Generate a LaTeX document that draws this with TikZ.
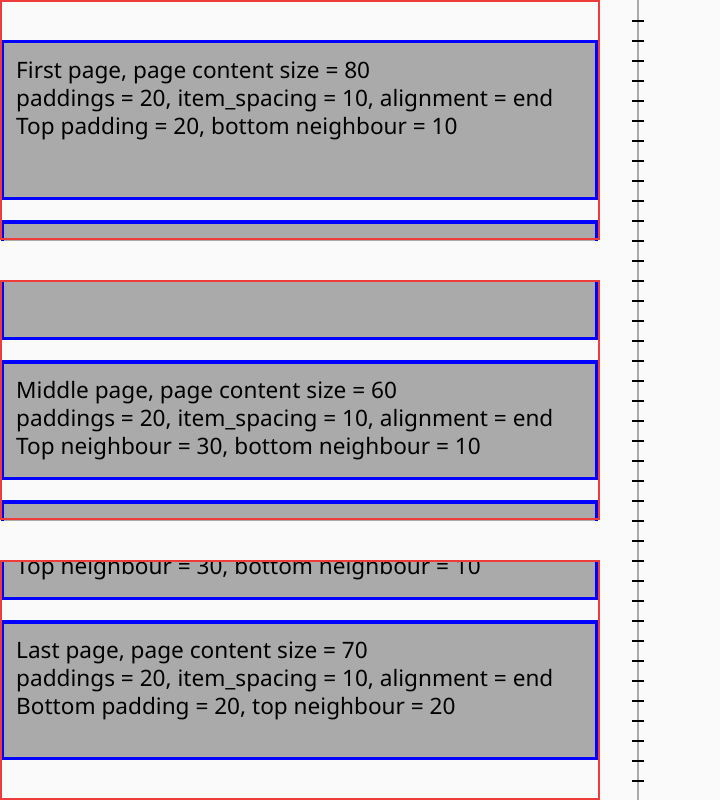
\documentclass[tikz,border=0pt]{standalone}
\usepackage{fontspec}
\setmainfont{Noto Sans}
\definecolor{pagebg}{HTML}{FAFAFA}
\definecolor{itemfill}{HTML}{AAAAAA}
\definecolor{itemline}{HTML}{0000FF}
\definecolor{viewline}{HTML}{EE3B3B}
\definecolor{rulerline}{HTML}{AAAAAA}
\begin{document}
\begin{tikzpicture}[x=1pt,y=-1pt,
  itembox/.style={fill=itemfill,draw=itemline,line width=3.5pt},
  viewport/.style={draw=viewline,line width=2pt},
  label/.style={anchor=base west,inner sep=0pt,text=black,font=\fontsize{22.6}{28}\selectfont},
  tick/.style={draw=black,line width=2pt},
  rulerstyle/.style={draw=rulerline,line width=2.3pt}]
\fill[pagebg] (0,0) rectangle (720,800);
\useasboundingbox (0,0) rectangle (720,800);

% an item box of the list between its top and bottom edges
\newcommand\itemrect[2]{%
  \draw[itembox] (2.25,#1+1.75) rectangle (596.5,#2-1.75);}
\newcommand\padline{paddings = 20, item\_spacing = 10, alignment = end}

% first page
\begin{scope}
  \clip (0,0) rectangle (600,240);
  \itemrect{40}{200}
  \node[label] (firsta) at (16,78) {First page, page content size = 80};
  \node[label] (firstb) at (16,106) {\padline};
  \node[label] (firstc) at (16,134) {Top padding = 20, bottom neighbour = 10};
  \itemrect{220}{340}
\end{scope}
\draw[viewport] (1,1) rectangle (599,239);

% middle page
\begin{scope}[shift={(0,280)}]
  \clip (0,0) rectangle (600,240);
  \itemrect{-100}{60}
  \itemrect{80}{200}
  \node[label] (middlea) at (16,118) {Middle page, page content size = 60};
  \node[label] (middleb) at (16,146) {\padline};
  \node[label] (middlec) at (16,174) {Top neighbour = 30, bottom neighbour = 10};
  \itemrect{220}{360}
\end{scope}
\draw[viewport] (1,281) rectangle (599,519);

% last page
\begin{scope}[shift={(0,560)}]
  \clip (0,0) rectangle (600,240);
  \itemrect{-80}{40}
  \node[label] (tailc) at (16,14) {Top neighbour = 30, bottom neighbour = 10};
  \itemrect{60}{200}
  \node[label] (lasta) at (16,98) {Last page, page content size = 70};
  \node[label] (lastb) at (16,126) {\padline};
  \node[label] (lastc) at (16,154) {Bottom padding = 20, top neighbour = 20};
\end{scope}
\draw[viewport] (1,561) rectangle (599,799);

% ruler
\draw[rulerstyle] (638,0) -- (638,800);
\foreach \i in {1,...,39}
  \draw[tick] (632,20*\i+1) -- (644,20*\i+1);
\end{tikzpicture}
\end{document}
